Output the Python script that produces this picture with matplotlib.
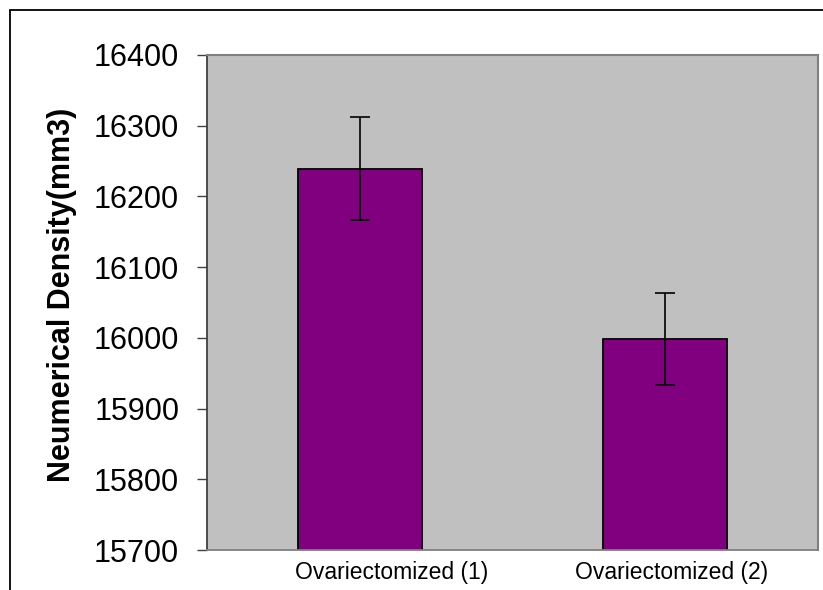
import matplotlib
matplotlib.use('Agg')
import matplotlib.pyplot as plt
import matplotlib.patches as patches
import matplotlib.transforms as mtransforms

plt.rcParams['font.family'] = ['Liberation Sans', 'DejaVu Sans']

# 데이터
groups = ['Ovariectomized (1)', 'Ovariectomized (2)']
density = [16239, 15999]
density_err = [73, 65]
y_ticks = [15700, 15800, 15900, 16000, 16100, 16200, 16300, 16400]

W, H, DPI = 823, 590, 100
fig = plt.figure(figsize=(W / DPI, H / DPI), dpi=DPI)
fig.patch.set_facecolor('white')

# 바깥 검은 테두리 (오른쪽/아래는 잘려 있음)
fig.patches.append(patches.Rectangle((10 / W, -0.05), 1.1, 1 - 10 / H + 0.05,
                                     transform=fig.transFigure, fill=False,
                                     edgecolor='black', linewidth=1.3))

ax = fig.add_axes([207 / W, 1 - 550 / H, (818 - 207) / W, (550 - 55) / H])
ax.set_facecolor('#c0c0c0')

xs = list(range(len(groups)))
ax.bar(xs, density, width=0.405, color='#800080', edgecolor='black', linewidth=1.3,
       zorder=2)
ax.errorbar(xs, density, yerr=density_err, fmt='none', ecolor='black',
            elinewidth=1.2, capsize=7.5, capthick=1.2, zorder=3)

ax.set_xlim(-0.5, len(groups) - 0.5)
ax.set_ylim(y_ticks[0], y_ticks[-1])
ax.set_yticks(y_ticks)
ax.set_yticklabels([str(v) for v in y_ticks], fontsize=22)
ax.tick_params(axis='y', direction='out', length=7, width=1, color='#404040', pad=13)
ax.set_xticks(xs)
ax.set_xticklabels(groups, fontsize=16.5)
ax.tick_params(axis='x', length=0, pad=8)

# 엑셀 라벨 위치처럼 약간 오른쪽으로 밀기
for lbl, dx in zip(ax.get_xticklabels(), [32, 6]):
    lbl.set_transform(lbl.get_transform() +
                      mtransforms.ScaledTranslation(dx / DPI, 0, fig.dpi_scale_trans))

ax.set_ylabel('Neumerical Density(mm3)', fontsize=22, fontweight='bold', va='center')
ax.yaxis.set_label_coords(-0.237, 0.515)

for side in ('top', 'right'):
    ax.spines[side].set_color('#808080')
    ax.spines[side].set_linewidth(1.5)
ax.spines['left'].set_color('#404040')
ax.spines['bottom'].set_color('#808080')
ax.spines['left'].set_linewidth(1.3)
ax.spines['bottom'].set_linewidth(1.3)

fig.savefig('out.png', dpi=DPI)
